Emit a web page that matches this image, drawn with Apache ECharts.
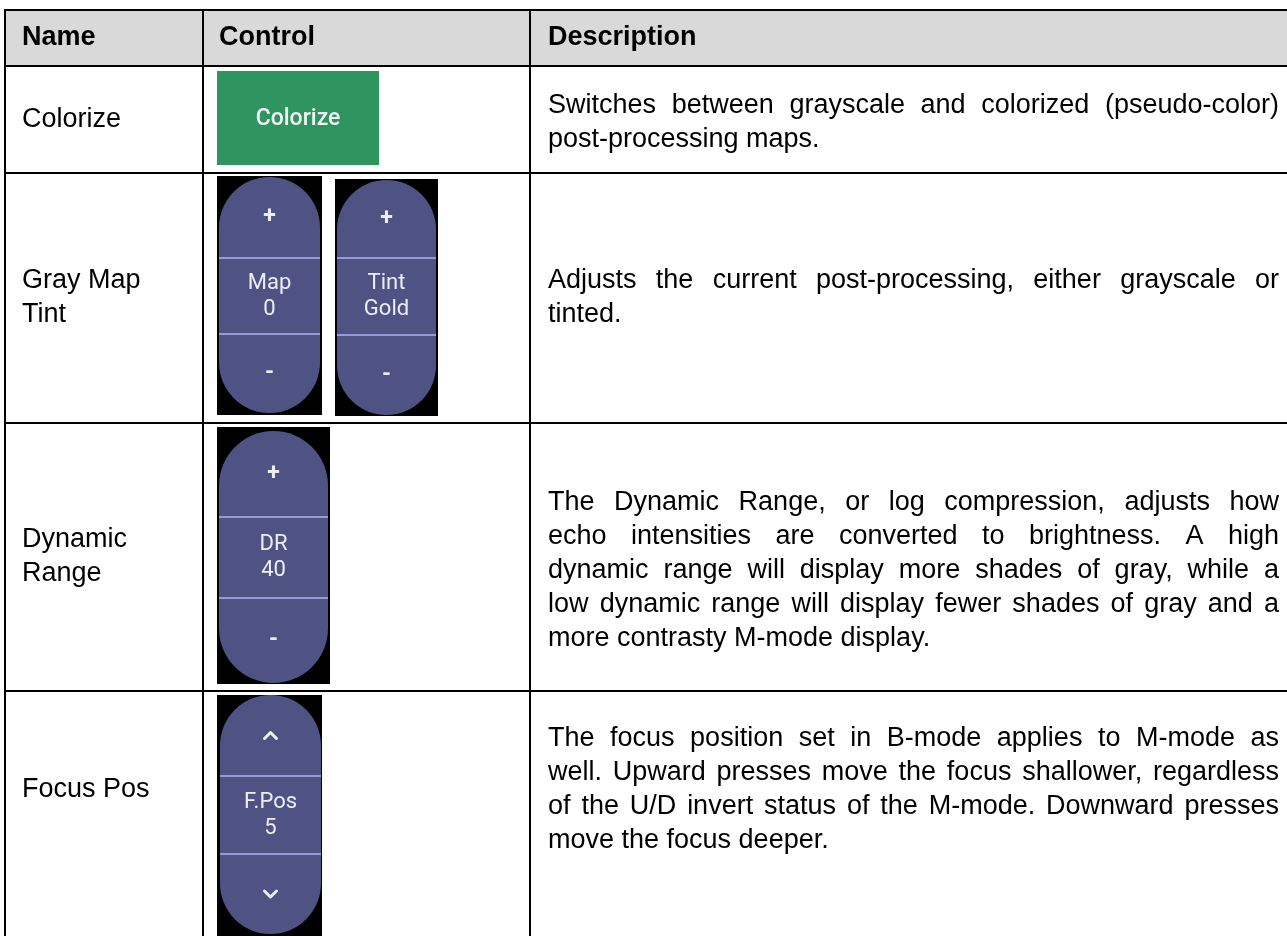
<!DOCTYPE html>
<html><head><meta charset="utf-8">
<script src="https://cdn.jsdelivr.net/npm/echarts@6/dist/echarts.min.js"></script>
<style>html,body{margin:0;padding:0;background:#fff}#c{width:1287px;height:936px}</style>
</head><body><div id="c"></div>
<script>
// ---- table content ----
const headers = ['Name', 'Control', 'Description'];
const names = [['Colorize'], ['Gray Map', 'Tint'], ['Dynamic', 'Range'], ['Focus Pos']];
const descriptions = [
  ['Switches between grayscale and colorized (pseudo-color)', 'post-processing maps.'],
  ['Adjusts the current post-processing, either grayscale or', 'tinted.'],
  ['The Dynamic Range, or log compression, adjusts how',
   'echo intensities are converted to brightness. A high',
   'dynamic range will display more shades of gray, while a',
   'low dynamic range will display fewer shades of gray and a',
   'more contrasty M-mode display.'],
  ['The focus position set in B-mode applies to M-mode as',
   'well. Upward presses move the focus shallower, regardless',
   'of the U/D invert status of the M-mode. Downward presses',
   'move the focus deeper.']
];
const buttonLabel = 'Colorize';
const pillLabels = [['Map', '0'], ['Tint', 'Gold'], ['DR', '40'], ['F.Pos', '5']];
const pillSymbols = [['+', '-'], ['+', '-'], ['+', '-'], ['up', 'down']];

// ---- layout ----
const colX = [5, 203, 530];
const rowY = [10, 66, 173, 423, 691];
const textLeft = [22, 219, 548];
const textRight = 1279;
const LH = 34;
const FAM = 'Liberation Sans';
const FS = 27;
const FONT = FS + 'px "' + FAM + '"';
const BFONT = 'bold ' + FS + 'px "' + FAM + '"';
const nameY = [[120], [281, 315], [540, 574], [790]];
const descY0 = [106, 281, 503, 739];
// pills: [blackX, blackY, blackW, blackH, pillX, pillY, pillW, pillH, div1, div2]
const pills = [
  [217, 176, 105, 239, 219, 177, 101, 236, 258, 334],
  [335, 179, 103, 237, 337, 180, 99, 235, 258, 335],
  [217, 427, 113, 257, 219, 431, 109, 252, 517, 598],
  [217, 695, 105, 260, 220, 695, 101, 239, 776, 854]
];

const ctx = document.createElement('canvas').getContext('2d');
function measure(s, font) { ctx.font = font; return ctx.measureText(s).width; }
function txt(x, y, s, fam, size, weight, align, fill) {
  return { type: 'text', x: x, y: y, silent: true, z: 10,
    style: { text: s, fontFamily: fam, fontSize: size, fontWeight: weight, fill: fill || '#000',
      textAlign: align || 'left', align: align || 'left',
      textVerticalAlign: 'middle', verticalAlign: 'middle' } };
}
function justified(line, x0, x1, y) {
  const words = line.split(' ');
  const ws = words.map(w => measure(w, FONT));
  const total = ws.reduce((a, b) => a + b, 0);
  const gap = words.length > 1 ? (x1 - x0 - total) / (words.length - 1) : 0;
  let x = x0; const out = [];
  words.forEach((w, i) => { out.push(txt(x, y, w, FAM, FS, 'normal', 'left')); x += ws[i] + gap; });
  return out;
}

const els = [];
els.push({ type: 'rect', shape: { x: colX[0], y: rowY[0], width: 1287 - colX[0], height: rowY[1] - rowY[0] }, style: { fill: '#d9d9d9' }, z: 1 });
rowY.forEach(y => els.push({ type: 'line', shape: { x1: colX[0] - 1, y1: y, x2: 1287, y2: y }, style: { stroke: '#000', lineWidth: 2 }, z: 5 }));
colX.forEach(x => els.push({ type: 'line', shape: { x1: x, y1: rowY[0] - 1, x2: x, y2: 936 }, style: { stroke: '#000', lineWidth: 2 }, z: 5 }));
headers.forEach((h, i) => els.push(txt(textLeft[i], 38, h, FAM, FS, 'bold', 'left')));
names.forEach((lines, r) => lines.forEach((s, k) => els.push(txt(textLeft[0], nameY[r][k], s, FAM, FS, 'normal', 'left'))));
descriptions.forEach((lines, r) => lines.forEach((s, k) => {
  const y = descY0[r] + k * LH;
  if (k < lines.length - 1) els.push(...justified(s, textLeft[2], textRight, y));
  else els.push(txt(textLeft[2], y, s, FAM, FS, 'normal', 'left'));
}));
// green button
els.push({ type: 'rect', shape: { x: 217, y: 71, width: 162, height: 94 }, style: { fill: '#2e9460' }, z: 2 });
els.push(txt(298, 119, buttonLabel, 'Roboto', 23, 500, 'center', '#f2f7f3'));
// pills
const PFILL = '#4e5384', PLINE = '#aeb3ef', PTXT = '#eceef5';
pills.forEach((p, i) => {
  const [bx, by, bw, bh, px, py, pw, ph, d1, d2] = p;
  els.push({ type: 'rect', shape: { x: bx, y: by, width: bw, height: Math.min(bh, 936 - by) }, style: { fill: '#000' }, z: 2 });
  els.push({ type: 'rect', shape: { x: px, y: py, width: pw, height: ph, r: pw / 2 }, style: { fill: PFILL }, z: 3 });
  [d1, d2].forEach(d => els.push({ type: 'line', shape: { x1: px, y1: d, x2: px + pw, y2: d }, style: { stroke: PLINE, lineWidth: 1.5 }, z: 4 }));
  const cx = px + pw / 2;
  const midC = (d1 + d2) / 2;
  els.push(txt(cx, midC - 13, pillLabels[i][0], 'Roboto', 22, 'normal', 'center', PTXT));
  els.push(txt(cx, midC + 13, pillLabels[i][1], 'Roboto', 22, 'normal', 'center', PTXT));
  const topC = (py + d1) / 2, botC = (d2 + py + ph) / 2;
  const [s1, s2] = pillSymbols[i];
  if (s1 === 'up') {
    els.push({ type: 'polyline', shape: { points: [[cx - 6, topC + 3], [cx, topC - 3], [cx + 6, topC + 3]] }, style: { stroke: PTXT, lineWidth: 3, lineCap: 'round', lineJoin: 'round', fill: null }, z: 6 });
    els.push({ type: 'polyline', shape: { points: [[cx - 6, botC - 3], [cx, botC + 3], [cx + 6, botC - 3]] }, style: { stroke: PTXT, lineWidth: 3, lineCap: 'round', lineJoin: 'round', fill: null }, z: 6 });
  } else {
    els.push(txt(cx, topC, s1, 'Roboto', 23, 'bold', 'center', PTXT));
    els.push(txt(cx, botC, s2, 'Roboto', 23, 'bold', 'center', PTXT));
  }
});

const chart = echarts.init(document.getElementById('c'), null, { renderer: 'canvas', width: 1287, height: 936 });
chart.setOption({ animation: false, backgroundColor: '#fff', graphic: { elements: els } });
</script>
</body></html>
